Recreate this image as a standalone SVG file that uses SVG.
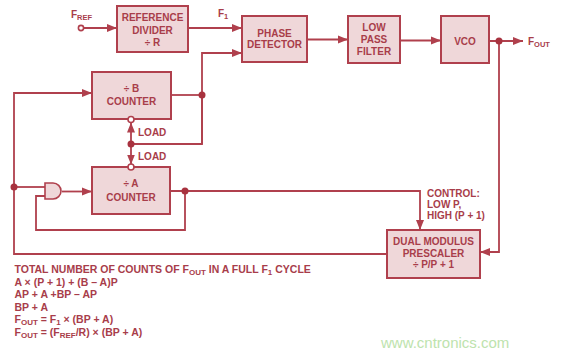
<svg xmlns="http://www.w3.org/2000/svg" width="565" height="358" viewBox="0 0 565 358">
<style>
.box{fill:#efd7d9;stroke:#b0404d;stroke-width:2}
.ln{fill:none;stroke:#b0404d;stroke-width:1.8}
.arr{marker-end:url(#ah)}
.dot{fill:#a8323f}
.oc{fill:#fff;stroke:#b0404d;stroke-width:1.6}
text{font-family:"Liberation Sans",Arial,sans-serif;font-weight:bold;font-size:10px;fill:#a83d4a}
.c{text-anchor:middle}
.s{font-size:7.5px}
.eq{font-size:10.5px}
.eq .s{font-size:8px}
.wm{font-family:"Liberation Sans",Arial,sans-serif;font-weight:normal;font-size:15px;fill:#bde3ad}
</style>
<defs>
<marker id="ah" markerUnits="userSpaceOnUse" markerWidth="10" markerHeight="10" viewBox="0 0 10 10" refX="10" refY="5" orient="auto">
<path d="M0,1 L10,5 L0,9 Z" fill="#b0404d"/>
</marker>
</defs>
<rect width="565" height="358" fill="#fff"/>

<g id="connectors">
<path class="ln arr" d="M83,28 H117"/>
<path class="ln arr" d="M189,28 H242"/>
<path class="ln arr" d="M307,39.5 H348"/>
<path class="ln arr" d="M400,40.5 H441"/>
<path class="ln arr" d="M489,41 H523"/>
<path class="ln arr" d="M499,41 V252 H480"/>
<path class="ln" d="M171,95 H202"/>
<path class="ln arr" d="M202,144 V53 H242"/>
<path class="ln" d="M202,95 V144 H131"/>
<path class="ln arr" d="M131,144 V122.5"/>
<path class="ln arr" d="M131,144 V164.5"/>
<path class="ln arr" d="M387,254 H14 V93 H92"/>
<path class="ln" d="M14,187 H45"/>
<path class="ln arr" d="M62,191.5 H92"/>
<path class="ln arr" d="M170,191 H420 V230"/>
<path class="ln" d="M185,191 V230 H36 V196 H45"/>
</g>

<g id="and-gate">
<path d="M45,183 H53 A8,8 0 0 1 53,199 H45 Z" fill="#efd7d9" stroke="#b0404d" stroke-width="1.6"/>
</g>

<g id="dots">
<circle class="dot" cx="499" cy="41" r="3.5"/>
<circle class="dot" cx="202" cy="95" r="3.5"/>
<circle class="dot" cx="131" cy="144" r="3.5"/>
<circle class="dot" cx="14" cy="187" r="3.5"/>
<circle class="dot" cx="185" cy="191" r="3.5"/>
<circle class="oc" cx="81" cy="28" r="2.6"/>
</g>

<g id="ref-divider">
<rect class="box" x="117" y="6" width="71" height="46"/>
<text class="c" x="152.5" y="21">REFERENCE</text>
<text class="c" x="152.5" y="33.5">DIVIDER</text>
<text class="c" x="152.5" y="46">÷ R</text>
</g>

<g id="phase-detector">
<rect class="box" x="242" y="16" width="65" height="46"/>
<text class="c" x="274.5" y="36.5">PHASE</text>
<text class="c" x="274.5" y="47.5">DETECTOR</text>
</g>

<g id="lpf">
<rect class="box" x="348" y="16" width="52" height="47"/>
<text class="c" x="374" y="30.5">LOW</text>
<text class="c" x="374" y="42.5">PASS</text>
<text class="c" x="374" y="54.5">FILTER</text>
</g>

<g id="vco">
<rect class="box" x="441" y="16" width="48" height="47"/>
<text class="c" x="465" y="45">VCO</text>
</g>

<g id="b-counter">
<rect class="box" x="92" y="72" width="79" height="47"/>
<text class="c" x="131.5" y="92">÷ B</text>
<text class="c" x="131.5" y="104.5">COUNTER</text>
<circle class="oc" cx="131" cy="119.5" r="3"/>
</g>

<g id="a-counter">
<rect class="box" x="92" y="167" width="78" height="47"/>
<text class="c" x="131" y="187">÷ A</text>
<text class="c" x="131" y="200.5">COUNTER</text>
<circle class="oc" cx="131" cy="167" r="3"/>
</g>

<g id="prescaler">
<rect class="box" x="387" y="230" width="93" height="48"/>
<text class="c" x="433.5" y="245">DUAL MODULUS</text>
<text class="c" x="433.5" y="256.5">PRESCALER</text>
<text class="c" x="433.5" y="268">÷ P/P + 1</text>
</g>

<g id="labels">
<text x="71" y="18">F<tspan class="s" dy="2">REF</tspan></text>
<text x="218" y="17">F<tspan class="s" dy="2">1</tspan></text>
<text x="528" y="45">F<tspan class="s" dy="2">OUT</tspan></text>
<text x="138" y="136">LOAD</text>
<text x="138" y="160">LOAD</text>
<text x="427" y="196.5">CONTROL:</text>
<text x="427" y="207.5">LOW P,</text>
<text x="427" y="218.5">HIGH (P + 1)</text>
</g>

<g id="equations">
<text class="eq" x="14.5" y="273">TOTAL NUMBER OF COUNTS OF F<tspan class="s" dy="2">OUT</tspan><tspan dy="-2"> IN A FULL F</tspan><tspan class="s" dy="2">1</tspan><tspan dy="-2"> CYCLE</tspan></text>
<text class="eq" x="14.5" y="285.5">A × (P + 1) + (B – A)P</text>
<text class="eq" x="14.5" y="298">AP + A +BP – AP</text>
<text class="eq" x="14.5" y="310.5">BP + A</text>
<text class="eq" x="14.5" y="323">F<tspan class="s" dy="2">OUT</tspan><tspan dy="-2"> = F</tspan><tspan class="s" dy="2">1</tspan><tspan dy="-2"> × (BP + A)</tspan></text>
<text class="eq" x="14.5" y="335.5">F<tspan class="s" dy="2">OUT</tspan><tspan dy="-2"> = (F</tspan><tspan class="s" dy="2">REF</tspan><tspan dy="-2">/R) × (BP + A)</tspan></text>
</g>

<text class="wm" x="381" y="348">www.cntronics.com</text>
</svg>
